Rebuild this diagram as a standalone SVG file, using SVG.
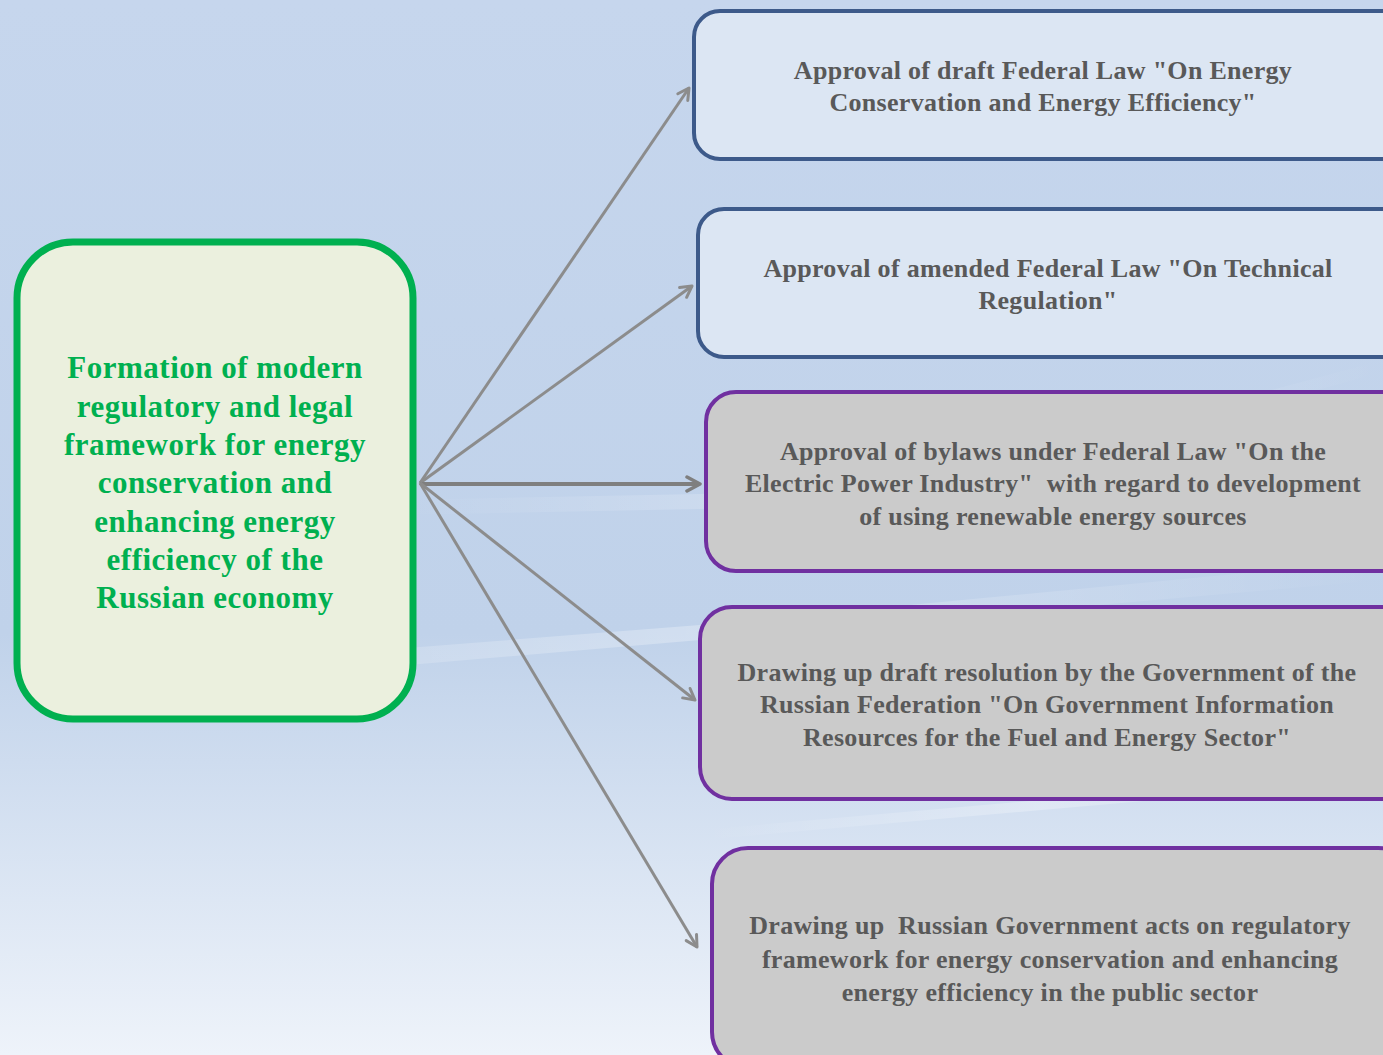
<svg xmlns="http://www.w3.org/2000/svg" width="1383" height="1055" viewBox="0 0 1383 1055">
<defs>
<linearGradient id="bg" x1="0" y1="0" x2="0" y2="1">
<stop offset="0" stop-color="#c6d6ed"/>
<stop offset="0.6" stop-color="#c0d2ea"/>
<stop offset="1" stop-color="#eef3fa"/>
</linearGradient>
<linearGradient id="streak" x1="0" y1="0" x2="1" y2="0">
<stop offset="0" stop-color="#ffffff" stop-opacity="0"/>
<stop offset="0.5" stop-color="#ffffff" stop-opacity="0.28"/>
<stop offset="1" stop-color="#ffffff" stop-opacity="0"/>
</linearGradient>
<marker id="ah" markerWidth="16" markerHeight="16" refX="13" refY="8" orient="auto" markerUnits="userSpaceOnUse" viewBox="0 0 16 16">
<path d="M2,2 L13,8 L2,14" fill="none" stroke="#8c8c8c" stroke-width="3" stroke-linecap="round" stroke-linejoin="round"/>
</marker>
<marker id="ah2" markerWidth="18" markerHeight="18" refX="15" refY="9" orient="auto" markerUnits="userSpaceOnUse" viewBox="0 0 18 18">
<path d="M2,2 L15,9 L2,16" fill="none" stroke="#7f7f7f" stroke-width="3.5" stroke-linecap="round" stroke-linejoin="round"/>
</marker>
</defs>
<style>
.blue{fill:#dce6f3;stroke:#3d5a8a;stroke-width:4}
.purple{fill:#cbcbcb;stroke:#7030a0;stroke-width:4}
.t{font-family:"Liberation Serif","Times New Roman",serif;font-weight:bold;font-size:26px;letter-spacing:0.3px;fill:#595959;text-anchor:middle}
.g{font-family:"Liberation Serif","Times New Roman",serif;font-weight:bold;font-size:31px;letter-spacing:0.5px;fill:#00b050;text-anchor:middle}
.c{fill:none;stroke:#8c8c8c;stroke-width:3}
</style>
<rect x="0" y="0" width="1383" height="1055" fill="url(#bg)"/>
<path d="M0,680 L700,625 L1383,560 L1383,580 L700,640 L0,700 Z" fill="url(#streak)"/>
<path d="M400,500 L900,490 L1383,360 L1383,372 L900,505 L400,515 Z" fill="url(#streak)"/>
<path d="M700,830 L1383,770 L1383,780 L700,840 Z" fill="url(#streak)"/>

<g id="connectors">
<line class="c" x1="420" y1="483" x2="689" y2="88" marker-end="url(#ah)"/>
<line class="c" x1="420" y1="483" x2="692" y2="286" marker-end="url(#ah)"/>
<line x1="420" y1="484" x2="700" y2="484" fill="none" stroke="#7f7f7f" stroke-width="4" marker-end="url(#ah2)"/>
<line class="c" x1="420" y1="483" x2="695" y2="700" marker-end="url(#ah)"/>
<line class="c" x1="420" y1="483" x2="697" y2="947" marker-end="url(#ah)"/>
</g>

<g id="node-main">
<rect x="17" y="242" width="396" height="477" rx="56" fill="#ebf0de" stroke="#00b050" stroke-width="7"/>
<text class="g"><tspan x="215" y="378">Formation of modern</tspan><tspan x="215" y="417">regulatory and legal</tspan><tspan x="215" y="455">framework for energy</tspan><tspan x="215" y="493">conservation and</tspan><tspan x="215" y="532">enhancing energy</tspan><tspan x="215" y="570">efficiency of the</tspan><tspan x="215" y="608">Russian economy</tspan></text>
</g>

<g id="node-1">
<rect class="blue" x="694" y="11" width="720" height="148" rx="26"/>
<text class="t"><tspan x="1043" y="79">Approval of draft Federal Law "On Energy</tspan><tspan x="1043" y="111">Conservation and Energy Efficiency"</tspan></text>
</g>

<g id="node-2">
<rect class="blue" x="698" y="209" width="716" height="148" rx="26"/>
<text class="t"><tspan x="1048" y="277">Approval of amended Federal Law "On Technical</tspan><tspan x="1048" y="309">Regulation"</tspan></text>
</g>

<g id="node-3">
<rect class="purple" x="706" y="392" width="708" height="179" rx="30"/>
<text class="t"><tspan x="1053" y="460">Approval of bylaws under Federal Law "On the</tspan><tspan x="1053" y="492" xml:space="preserve">Electric Power Industry"  with regard to development</tspan><tspan x="1053" y="525">of using renewable energy sources</tspan></text>
</g>

<g id="node-4">
<rect class="purple" x="700" y="607" width="714" height="192" rx="32"/>
<text class="t"><tspan x="1047" y="681">Drawing up draft resolution by the Government of the</tspan><tspan x="1047" y="713">Russian Federation "On Government Information</tspan><tspan x="1047" y="746">Resources for the Fuel and Energy Sector"</tspan></text>
</g>

<g id="node-5">
<rect class="purple" x="712" y="848" width="702" height="220" rx="36"/>
<text class="t"><tspan x="1050" y="934" xml:space="preserve">Drawing up  Russian Government acts on regulatory</tspan><tspan x="1050" y="968">framework for energy conservation and enhancing</tspan><tspan x="1050" y="1001">energy efficiency in the public sector</tspan></text>
</g>
</svg>
